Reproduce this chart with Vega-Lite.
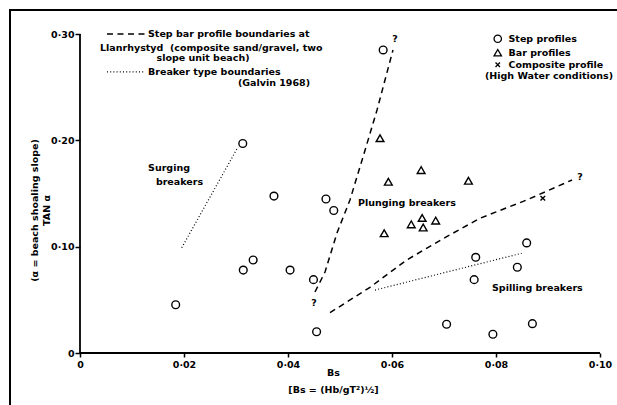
{
  "$schema": "https://vega.github.io/schema/vega-lite/v6.json",
  "width": 607,
  "height": 395,
  "autosize": {"type": "none"},
  "padding": {"left": 10, "top": 10, "right": 0, "bottom": 0},
  "background": "white",
  "config": {
    "view": {"stroke": "black", "strokeWidth": 2, "fill": "white", "strokeDash": [607, 1002, 396, 0]},
    "font": "DejaVu Sans",
    "text": {"font": "DejaVu Sans", "fontWeight": "bold", "fontSize": 9.5, "color": "black"}
  },
  "datasets": {
    "points": [
      {"bs": 0.0184, "tan": 0.0454, "type": "Step profiles"},
      {"bs": 0.0313, "tan": 0.197, "type": "Step profiles"},
      {"bs": 0.0314, "tan": 0.078, "type": "Step profiles"},
      {"bs": 0.0333, "tan": 0.0875, "type": "Step profiles"},
      {"bs": 0.0373, "tan": 0.1476, "type": "Step profiles"},
      {"bs": 0.0404, "tan": 0.078, "type": "Step profiles"},
      {"bs": 0.0449, "tan": 0.069, "type": "Step profiles"},
      {"bs": 0.0455, "tan": 0.02, "type": "Step profiles"},
      {"bs": 0.0473, "tan": 0.1448, "type": "Step profiles"},
      {"bs": 0.0488, "tan": 0.134, "type": "Step profiles"},
      {"bs": 0.0583, "tan": 0.285, "type": "Step profiles"},
      {"bs": 0.0761, "tan": 0.09, "type": "Step profiles"},
      {"bs": 0.0758, "tan": 0.069, "type": "Step profiles"},
      {"bs": 0.0859, "tan": 0.1035, "type": "Step profiles"},
      {"bs": 0.0841, "tan": 0.0806, "type": "Step profiles"},
      {"bs": 0.0705, "tan": 0.027, "type": "Step profiles"},
      {"bs": 0.0794, "tan": 0.0176, "type": "Step profiles"},
      {"bs": 0.087, "tan": 0.0276, "type": "Step profiles"},
      {"bs": 0.0577, "tan": 0.202, "type": "Bar profiles"},
      {"bs": 0.0593, "tan": 0.161, "type": "Bar profiles"},
      {"bs": 0.0656, "tan": 0.172, "type": "Bar profiles"},
      {"bs": 0.0747, "tan": 0.162, "type": "Bar profiles"},
      {"bs": 0.0585, "tan": 0.1126, "type": "Bar profiles"},
      {"bs": 0.0637, "tan": 0.121, "type": "Bar profiles"},
      {"bs": 0.0658, "tan": 0.127, "type": "Bar profiles"},
      {"bs": 0.066, "tan": 0.118, "type": "Bar profiles"},
      {"bs": 0.0684, "tan": 0.1245, "type": "Bar profiles"},
      {"bs": 0.089, "tan": 0.1455, "type": "Composite profile"}
    ],
    "lines": [
      {"line": "yaxis", "kind": "axis", "i": 0, "bs": 0, "tan": 0},
      {"line": "yaxis", "kind": "axis", "i": 1, "bs": 0, "tan": 0.3},
      {"line": "xaxis", "kind": "axis", "i": 0, "bs": 0, "tan": 0},
      {"line": "xaxis", "kind": "axis", "i": 1, "bs": 0.1, "tan": 0},
      {"line": "steep", "kind": "dashed", "i": 0, "bs": 0.04519, "tan": 0.0574},
      {"line": "steep", "kind": "dashed", "i": 1, "bs": 0.04712, "tan": 0.0762},
      {"line": "steep", "kind": "dashed", "i": 2, "bs": 0.04942, "tan": 0.1129},
      {"line": "steep", "kind": "dashed", "i": 3, "bs": 0.05192, "tan": 0.1439},
      {"line": "steep", "kind": "dashed", "i": 4, "bs": 0.05442, "tan": 0.1843},
      {"line": "steep", "kind": "dashed", "i": 5, "bs": 0.05712, "tan": 0.2285},
      {"line": "steep", "kind": "dashed", "i": 6, "bs": 0.06019, "tan": 0.285},
      {"line": "shallow", "kind": "dashed", "i": 0, "bs": 0.04808, "tan": 0.0379},
      {"line": "shallow", "kind": "dashed", "i": 1, "bs": 0.05577, "tan": 0.0618},
      {"line": "shallow", "kind": "dashed", "i": 2, "bs": 0.06283, "tan": 0.0875},
      {"line": "shallow", "kind": "dashed", "i": 3, "bs": 0.07052, "tan": 0.1094},
      {"line": "shallow", "kind": "dashed", "i": 4, "bs": 0.07692, "tan": 0.1267},
      {"line": "shallow", "kind": "dashed", "i": 5, "bs": 0.0859, "tan": 0.1439},
      {"line": "shallow", "kind": "dashed", "i": 6, "bs": 0.09462, "tan": 0.1627},
      {"line": "legend-dash", "kind": "dashed", "i": 0, "bs": 0.00519, "tan": 0.3},
      {"line": "legend-dash", "kind": "dashed", "i": 1, "bs": 0.0125, "tan": 0.3},
      {"line": "surging", "kind": "dotted", "i": 0, "bs": 0.01956, "tan": 0.099},
      {"line": "surging", "kind": "dotted", "i": 1, "bs": 0.03038, "tan": 0.1937},
      {"line": "spilling", "kind": "dotted", "i": 0, "bs": 0.05673, "tan": 0.0592},
      {"line": "spilling", "kind": "dotted", "i": 1, "bs": 0.08494, "tan": 0.0938},
      {"line": "legend-dot", "kind": "dotted", "i": 0, "bs": 0.00519, "tan": 0.2643},
      {"line": "legend-dot", "kind": "dotted", "i": 1, "bs": 0.0125, "tan": 0.2643}
    ],
    "notes_left": [
      {"label": "Step bar profile boundaries at", "bs": 0.01308, "tan": 0.3},
      {"label": "Llanrhystyd\u00a0\u00a0(composite sand/gravel, two", "bs": 0.00385, "tan": 0.2868},
      {"label": "Breaker type boundaries", "bs": 0.01308, "tan": 0.2643},
      {"label": "Plunging breakers", "bs": 0.05346, "tan": 0.1411},
      {"label": "Spilling breakers", "bs": 0.07923, "tan": 0.0611},
      {"label": "(High Water conditions)", "bs": 0.07788, "tan": 0.2605}
    ],
    "notes_center": [
      {"label": "slope unit beach)", "bs": 0.02365, "tan": 0.2774},
      {"label": "Surging", "bs": 0.01712, "tan": 0.174},
      {"label": "breakers", "bs": 0.01913, "tan": 0.1608},
      {"label": "?", "bs": 0.06058, "tan": 0.2953},
      {"label": "?", "bs": 0.045, "tan": 0.047},
      {"label": "?", "bs": 0.09615, "tan": 0.1655}
    ],
    "notes_right": [
      {"label": "(Galvin 1968)", "bs": 0.04423, "tan": 0.2539}
    ]
  },
  "encoding": {
    "x": {
      "field": "bs",
      "type": "quantitative",
      "scale": {"domain": [-0.0134615, 0.1032692], "nice": false, "zero": false},
      "axis": {
        "values": [0, 0.02, 0.04, 0.06, 0.08, 0.1],
        "offset": -52,
        "domain": false,
        "grid": false,
        "tickSize": 4,
        "tickWidth": 1.5,
        "tickColor": "black",
        "labelFlush": false,
        "labelExpr": "datum.value == 0 ? '0' : replace(format(datum.value, '.2f'), '.', '·')",
        "labelFont": "DejaVu Sans",
        "labelFontWeight": "bold",
        "labelFontSize": 9.5,
        "labelColor": "black",
        "labelPadding": 2,
        "title": ["Bs", "[Bs = (Hb/gT²)½]"],
        "titleFont": "DejaVu Sans",
        "titleFontWeight": "bold",
        "titleFontSize": 9.5,
        "titleColor": "black",
        "titleX": 323,
        "titleY": 14,
        "titleAlign": "center",
        "titleBaseline": "top",
        "titleLineHeight": 17
      }
    },
    "y": {
      "field": "tan",
      "type": "quantitative",
      "scale": {"domain": [-0.048902, 0.322571], "nice": false, "zero": false},
      "axis": {
        "values": [0, 0.1, 0.2, 0.3],
        "offset": -70,
        "domain": false,
        "grid": false,
        "tickSize": 5,
        "tickWidth": 1.5,
        "tickColor": "black",
        "labelFlush": false,
        "labelExpr": "datum.value == 0 ? '0' : replace(format(datum.value, '.2f'), '.', '·')",
        "labelFont": "DejaVu Sans",
        "labelFontWeight": "bold",
        "labelFontSize": 9.5,
        "labelColor": "black",
        "labelPadding": 1,
        "title": ["(α = beach shoaling slope)", "TAN α"],
        "titleFont": "DejaVu Sans",
        "titleFontWeight": "bold",
        "titleFontSize": 9.5,
        "titleColor": "black",
        "titleAngle": -90,
        "titleX": -46,
        "titleY": 200,
        "titleAlign": "center",
        "titleBaseline": "middle",
        "titleLineHeight": 12
      }
    }
  },
  "layer": [
    {
      "data": {"name": "lines"},
      "transform": [{"filter": "datum.kind === 'axis'"}],
      "mark": {"type": "line", "color": "black", "strokeWidth": 1.8},
      "encoding": {"detail": {"field": "line", "type": "nominal"}, "order": {"field": "i", "type": "quantitative"}}
    },
    {
      "data": {"name": "lines"},
      "transform": [{"filter": "datum.kind === 'dashed'"}],
      "mark": {"type": "line", "color": "black", "strokeWidth": 1.5, "strokeDash": [6, 4.5]},
      "encoding": {"detail": {"field": "line", "type": "nominal"}, "order": {"field": "i", "type": "quantitative"}}
    },
    {
      "data": {"name": "lines"},
      "transform": [{"filter": "datum.kind === 'dotted'"}],
      "mark": {"type": "line", "color": "black", "strokeWidth": 1.2, "strokeDash": [1, 2.2]},
      "encoding": {"detail": {"field": "line", "type": "nominal"}, "order": {"field": "i", "type": "quantitative"}}
    },
    {
      "data": {"name": "points"},
      "mark": {"type": "point", "filled": false, "color": "black", "strokeWidth": 1.4, "size": 60, "opacity": 1},
      "encoding": {
        "shape": {
          "field": "type",
          "type": "nominal",
          "scale": {
            "domain": ["Step profiles", "Bar profiles", "Composite profile"],
            "range": ["circle", "triangle-up", "M-0.6,-0.6L0.6,0.6M0.6,-0.6L-0.6,0.6"]
          },
          "legend": {
            "orient": "none",
            "legendX": 483,
            "legendY": 24,
            "title": null,
            "padding": 0,
            "labelFont": "DejaVu Sans",
            "labelFontWeight": "bold",
            "labelFontSize": 9.5,
            "labelColor": "black",
            "labelOffset": 6,
            "rowPadding": 0,
            "symbolSize": 55,
            "symbolStrokeWidth": 1.3,
            "symbolStrokeColor": "black",
            "symbolFillColor": "transparent"
          }
        }
      }
    },
    {
      "data": {"name": "notes_left"},
      "mark": {"type": "text", "align": "left", "baseline": "middle"},
      "encoding": {"text": {"field": "label", "type": "nominal"}}
    },
    {
      "data": {"name": "notes_center"},
      "mark": {"type": "text", "align": "center", "baseline": "middle"},
      "encoding": {"text": {"field": "label", "type": "nominal"}}
    },
    {
      "data": {"name": "notes_right"},
      "mark": {"type": "text", "align": "right", "baseline": "middle"},
      "encoding": {"text": {"field": "label", "type": "nominal"}}
    }
  ]
}
